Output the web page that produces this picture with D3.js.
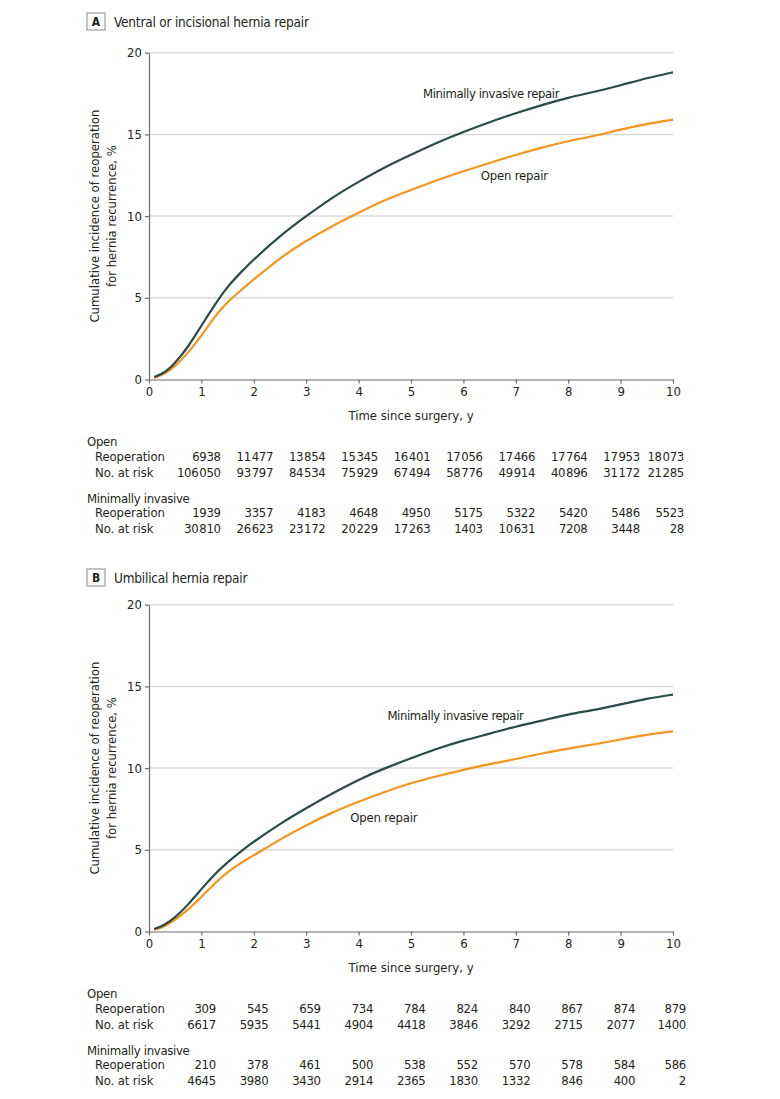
<!DOCTYPE html>
<html><head><meta charset="utf-8">
<script src="https://cdn.jsdelivr.net/npm/d3@7"></script>
<style>
body{margin:0;background:#fff;}
svg text{font-family:"DejaVu Sans Condensed","DejaVu Sans",sans-serif;font-stretch:condensed;fill:#231f20;}
</style></head><body>
<svg id="c" width="780" height="1099"></svg>
<script>
// ---------- data ----------
const xTicks = [0,1,2,3,4,5,6,7,8,9,10];
const yTicks = [0,5,10,15,20];
const tableYears = [1,2,3,4,5,6,7,8,9,10];
const curveTimes = [0.1,0.3,0.5,0.75,1,1.25,1.5,1.75,2,2.5,3,3.5,4,4.5,5,5.5,6,6.5,7,7.5,8,8.5,9,9.5,10];

const misA  = [0.15,0.4,1.0,2.0,3.3,4.55,5.7,6.55,7.35,8.8,10.0,11.15,12.1,13.0,13.75,14.5,15.15,15.75,16.3,16.8,17.25,17.6,18.0,18.45,18.8];
const openA = [0.1,0.35,0.8,1.65,2.65,3.85,4.77,5.45,6.12,7.45,8.5,9.4,10.2,11.0,11.6,12.2,12.75,13.25,13.75,14.2,14.6,14.9,15.3,15.65,15.9];
const misB  = [0.15,0.4,0.85,1.65,2.6,3.5,4.25,4.9,5.5,6.6,7.55,8.45,9.3,10.0,10.6,11.2,11.7,12.1,12.55,12.9,13.3,13.55,13.9,14.25,14.5];
const openB = [0.1,0.3,0.7,1.35,2.1,2.95,3.65,4.2,4.65,5.65,6.5,7.3,7.95,8.55,9.1,9.5,9.9,10.25,10.55,10.9,11.2,11.45,11.75,12.05,12.25];

const openReopA = [6938,11477,13854,15345,16401,17056,17466,17764,17953,18073];
const openRiskA = [106050,93797,84534,75929,67494,58776,49914,40896,31172,21285];
const misReopA  = [1939,3357,4183,4648,4950,5175,5322,5420,5486,5523];
const misRiskA  = [30810,26623,23172,20229,17263,1403,10631,7208,3448,28];
const openReopB = [309,545,659,734,784,824,840,867,874,879];
const openRiskB = [6617,5935,5441,4904,4418,3846,3292,2715,2077,1400];
const misReopB  = [210,378,461,500,538,552,570,578,584,586];
const misRiskB  = [4645,3980,3430,2914,2365,1830,1332,846,400,2];

const panels = [
  {letter:"A", title:"Ventral or incisional hernia repair", mis:misA, open:openA,
   rows:[openReopA,openRiskA,misReopA,misRiskA],
   misLabel:[5.23,17.5], openLabel:[6.33,12.5], off:0, hdr:0, colOff:19.3, lastRight:684},
  {letter:"B", title:"Umbilical hernia repair", mis:misB, open:openB,
   rows:[openReopB,openRiskB,misReopB,misRiskB],
   misLabel:[4.55,13.2], openLabel:[3.84,7.0], off:552, hdr:556, colOff:14.5, lastRight:686}
];

// ---------- drawing ----------
const svg = d3.select("#c");
const MIS_COLOR = "#2a4b4a", OPEN_COLOR = "#f7941d", GRID = "#d9d9d9", AXIS = "#6d6e71";
const FONT = '"DejaVu Sans Condensed","DejaVu Sans",sans-serif';
const fmt = v => v >= 10000 ? d3.format(",")(v).replace(/,/g,"\u200A") : String(v);

panels.forEach(p => {
  const g = svg.append("g");
  const x = d3.scaleLinear().domain([0,10]).range([149,673]);
  const y = d3.scaleLinear().domain([0,20]).range([379.5 + p.off, 52.7 + p.off]);

  // header
  g.append("rect").attr("x",87).attr("y",13 + p.hdr).attr("width",18).attr("height",17)
    .attr("fill","none").attr("stroke","#8a8a8a").attr("stroke-width",1);
  g.append("text").attr("x",96).attr("y",21.5 + p.hdr).attr("dy","0.36em")
    .attr("text-anchor","middle").style("font-weight","bold").style("font-size","12px").text(p.letter);
  g.append("text").attr("x",114).attr("y",22 + p.hdr).attr("dy","0.36em")
    .style("font-size","13.5px").style("letter-spacing","-0.2px").text(p.title);

  // grid
  g.selectAll(".grid").data(yTicks.filter(t=>t>0)).join("line")
    .attr("x1",x(0)).attr("x2",x(10)).attr("y1",d=>y(d)).attr("y2",d=>y(d))
    .attr("stroke",GRID).attr("stroke-width",1.5);

  // axes
  const ax = g.append("g").attr("transform",`translate(0,${y(0)})`)
    .call(d3.axisBottom(x).tickValues(xTicks).tickSize(4).tickSizeOuter(0).tickPadding(3));
  const ay = g.append("g").attr("transform",`translate(${x(0)},0)`)
    .call(d3.axisLeft(y).tickValues(yTicks).tickSize(4).tickSizeOuter(0).tickPadding(3));
  [ax,ay].forEach(a=>{
    a.select(".domain").attr("stroke",AXIS).attr("stroke-width",1.2);
    a.selectAll(".tick line").attr("stroke",AXIS).attr("stroke-width",1.2);
    a.selectAll(".tick text").style("font-size","13px").attr("fill","#231f20")
      .style("font-family",FONT).style("font-stretch","condensed");
  });

  // lines
  const line = vals => d3.line().x((d,i)=>x(curveTimes[i])).y(d=>y(d)).curve(d3.curveBasis)(vals);
  g.append("path").attr("d",line(p.open)).attr("fill","none").attr("stroke",OPEN_COLOR).attr("stroke-width",2.2);
  g.append("path").attr("d",line(p.mis)).attr("fill","none").attr("stroke",MIS_COLOR).attr("stroke-width",2.2);

  // line labels
  g.append("text").attr("x",x(p.misLabel[0])).attr("y",y(p.misLabel[1])).attr("dy","0.36em")
    .style("font-size","13px").style("letter-spacing","-0.4px").text("Minimally invasive repair");
  g.append("text").attr("x",x(p.openLabel[0])).attr("y",y(p.openLabel[1])).attr("dy","0.36em")
    .style("font-size","13px").style("letter-spacing","-0.2px").text("Open repair");

  // axis titles
  g.append("text").attr("x",411).attr("y",415 + p.off).attr("dy","0.36em")
    .attr("text-anchor","middle").style("font-size","13px").text("Time since surgery, y");
  const yc = (y(0)+y(20))/2;
  g.append("text").attr("transform",`translate(94.5,${yc}) rotate(-90)`).attr("dy","0.36em")
    .attr("text-anchor","middle").style("font-size","13px").text("Cumulative incidence of reoperation");
  g.append("text").attr("transform",`translate(111.5,${yc}) rotate(-90)`).attr("dy","0.36em")
    .attr("text-anchor","middle").style("font-size","13px").text("for hernia recurrence, %");

  // risk table
  const rowY = [456.7, 472.3, 512.7, 528.3].map(v=>v+p.off);
  const groupY = [441.7, 498.3].map(v=>v+p.off);
  const groupNames = ["Open","Minimally invasive"];
  const rowNames = ["Reoperation","No. at risk","Reoperation","No. at risk"];
  groupNames.forEach((n,i)=>g.append("text").attr("x",87).attr("y",groupY[i]).attr("dy","0.36em")
    .style("font-size","13px").style("letter-spacing","-0.3px").text(n));
  rowNames.forEach((n,i)=>g.append("text").attr("x",95).attr("y",rowY[i]).attr("dy","0.36em")
    .style("font-size","13px").style("letter-spacing","-0.1px").text(n));
  p.rows.forEach((vals,ri)=>{
    g.selectAll(null).data(vals).join("text")
      .attr("x",(d,i)=>Math.min(x(tableYears[i]) + p.colOff, p.lastRight))
      .attr("y",rowY[ri]).attr("dy","0.36em").attr("text-anchor","end")
      .style("font-size","13px").style("letter-spacing","-0.3px").text(d=>fmt(d));
  });
});
</script>
</body></html>
